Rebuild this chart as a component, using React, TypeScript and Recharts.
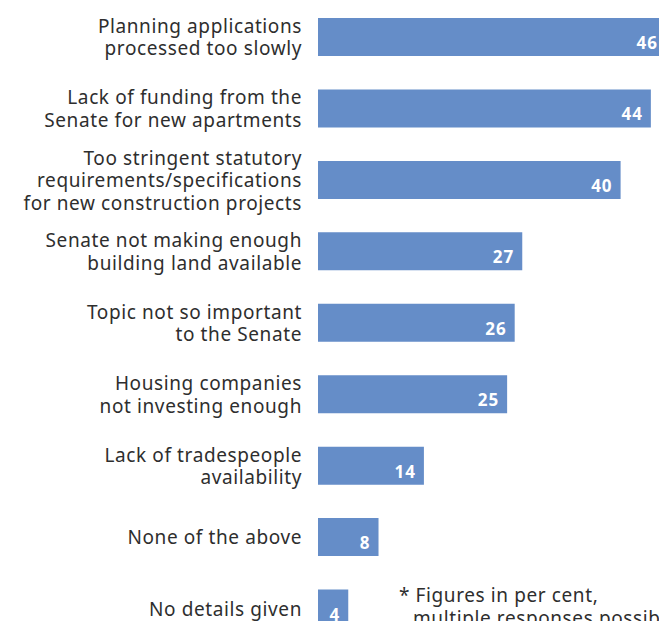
import React from "react";
import { BarChart, Bar, XAxis, YAxis, LabelList } from "recharts";

const categories = [
  "Planning applications\nprocessed too slowly",
  "Lack of funding from the\nSenate for new apartments",
  "Too stringent statutory\nrequirements/specifications\nfor new construction projects",
  "Senate not making enough\nbuilding land available",
  "Topic not so important\nto the Senate",
  "Housing companies\nnot investing enough",
  "Lack of tradespeople\navailability",
  "None of the above",
  "No details given",
];
const values = [46, 44, 40, 27, 26, 25, 14, 8, 4];
const footnoteLines = ["* Figures in per cent,", "multiple responses possible"];

const data = categories.map((c, i) => ({ category: c, value: values[i] }));

const FONT = "'Noto Sans', sans-serif";
const BAR_COLOR = "#658dc8";
const TEXT_COLOR = "#2e2e2e";

const CategoryTick = (props: any) => {
  const { x, y, payload } = props;
  const lines: string[] = String(payload.value).split("\n");
  const lh = 22.5;
  const start = -((lines.length - 1) * lh) / 2;
  return (
    <text
      x={x}
      y={y}
      textAnchor="end"
      fill={TEXT_COLOR}
      fontSize={19}
      letterSpacing={0.6}
      fontFamily={FONT}
    >
      {lines.map((l, i) => (
        <tspan key={i} x={x} dy={i === 0 ? start + 7.5 : lh}>
          {l}
        </tspan>
      ))}
    </text>
  );
};

const ValueLabel = (props: any) => {
  const { x, y, width, height, value } = props;
  return (
    <text
      x={x + width - 8}
      y={y + height - 7}
      textAnchor="end"
      fill="#ffffff"
      fontSize={17}
      fontWeight={700}
      letterSpacing={1}
      fontFamily={FONT}
    >
      {value}
    </text>
  );
};

export default function App() {
  return (
    <div
      style={{
        position: "absolute",
        left: 0,
        top: 0,
        width: 659,
        height: 621,
        overflow: "hidden",
        background: "#ffffff",
      }}
    >
      <BarChart
        width={666}
        height={644}
        data={data}
        layout="vertical"
        margin={{ top: 1, right: 0, bottom: 0, left: 0 }}
      >
        <XAxis type="number" domain={[0, 46]} hide />
        <YAxis
          type="category"
          dataKey="category"
          width={318}
          axisLine={false}
          tickLine={false}
          tickSize={8}
          tickMargin={8}
          interval={0}
          tick={<CategoryTick />}
        />
        <Bar dataKey="value" fill={BAR_COLOR} barSize={38} isAnimationActive={false}>
          <LabelList dataKey="value" content={<ValueLabel />} />
        </Bar>
      </BarChart>
      <div
        style={{
          position: "absolute",
          left: 399,
          top: 584,
          fontFamily: FONT,
          fontSize: 19,
          letterSpacing: 0.6,
          lineHeight: "23px",
          color: TEXT_COLOR,
          whiteSpace: "nowrap",
        }}
      >
        <div>{footnoteLines[0]}</div>
        <div style={{ paddingLeft: 14 }}>{footnoteLines[1]}</div>
      </div>
    </div>
  );
}
